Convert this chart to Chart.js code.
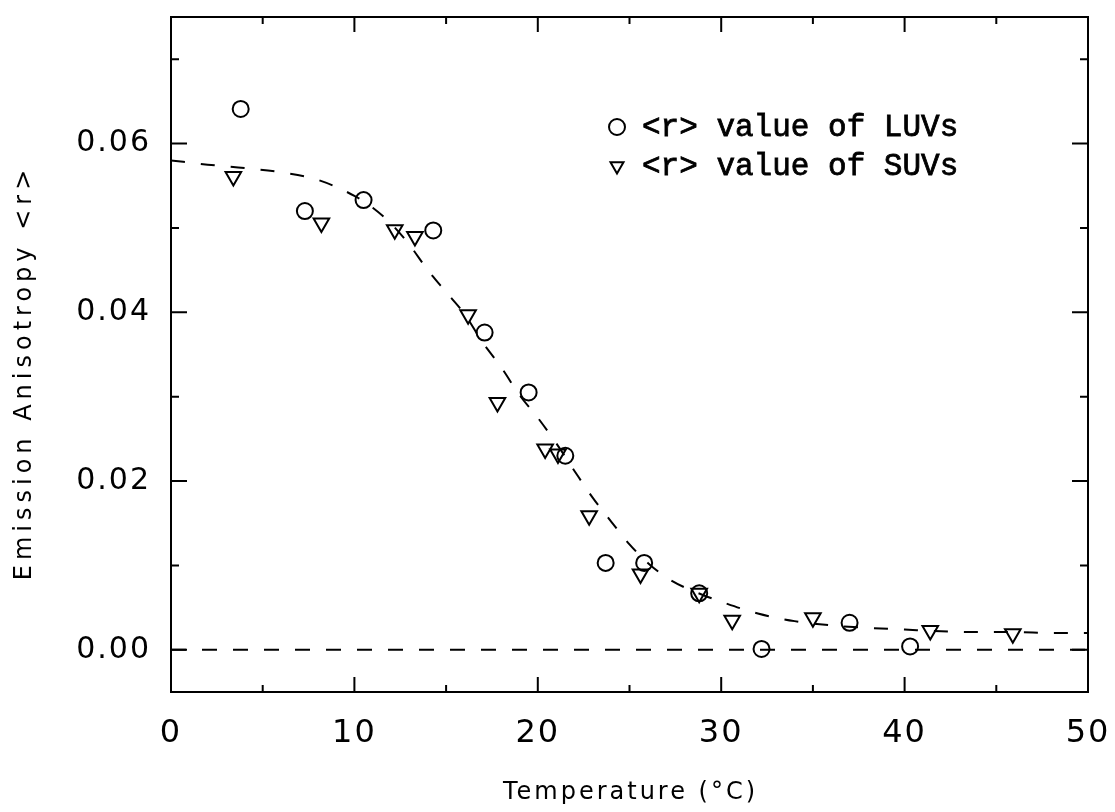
<!DOCTYPE html>
<html>
<head>
<meta charset="utf-8">
<title>Emission anisotropy vs temperature</title>
<script src="https://cdn.jsdelivr.net/npm/chart.js@4.4.1/dist/chart.umd.min.js"></script>
<style>
  html, body { margin: 0; padding: 0; background: #fff; }
  canvas { display: block; }
</style>
</head>
<body>
<canvas id="aniso" width="1115" height="812"></canvas>
<script>
// large unilamellar vesicles
const luvTemp = [3.8, 7.3, 10.5, 14.3, 17.1, 19.5, 21.5, 23.7, 25.8, 28.8, 32.2, 37.0, 40.3];
const luvR    = [0.0641, 0.0520, 0.0533, 0.0497, 0.0376, 0.0305, 0.0230, 0.0103, 0.0103, 0.0067, 0.0001, 0.0032, 0.0004];

// small unilamellar vesicles
const suvTemp = [3.4, 8.2, 12.2, 13.3, 16.2, 17.8, 20.4, 21.1, 22.8, 25.6, 28.8, 30.6, 35.0, 41.4, 45.9];
const suvR    = [0.0561, 0.0506, 0.0498, 0.0490, 0.0397, 0.0293, 0.0238, 0.0232, 0.0159, 0.0090, 0.0067, 0.0035, 0.0038, 0.0023, 0.0019];

// fitted phase transition curve
const fitTemp = [0, 2, 4, 6, 8, 10, 11, 12, 13, 14, 15, 16, 17, 18, 19, 20, 21, 22, 23, 24, 25,
                 26, 27, 28, 29, 30, 32, 34, 36, 38, 40, 42, 44, 46, 48, 50];
const fitR    = [0.0580, 0.0575, 0.0571, 0.0566, 0.0557, 0.0538, 0.0524, 0.0505, 0.0480, 0.0450,
                 0.0424, 0.0398, 0.0364, 0.0335, 0.0302, 0.0275, 0.0245, 0.0212, 0.0180, 0.0152,
                 0.0125, 0.0103, 0.0086, 0.0074, 0.0065, 0.0057, 0.0043, 0.0034, 0.0029, 0.0026,
                 0.0024, 0.0022, 0.0021, 0.0021, 0.0020, 0.0020];

// zero reference line
const baseTemp = [0, 50];
const baseR    = [0, 0];

const xTicks = [0, 10, 20, 30, 40, 50];
const yTicks = [0, 0.02, 0.04, 0.06];

const xTitle = 'Temperature (\u00B0C)';
const yTitle = 'Emission Anisotropy <r>';

const pts = (xs, ys) => xs.map((v, i) => ({ x: v, y: ys[i] }));

// box frame with inward ticks, axis titles and the inset key
const frame = {
  id: 'frame',
  beforeDraw(chart) {
    chart.ctx.letterSpacing = '2px';
  },
  afterDraw(chart) {
    const { ctx, chartArea: a, scales: { x, y } } = chart;
    ctx.save();
    ctx.letterSpacing = '0px';
    ctx.strokeStyle = '#000';
    ctx.lineWidth = 2;
    ctx.strokeRect(a.left, a.top, a.right - a.left, a.bottom - a.top);

    ctx.beginPath();
    for (let v = x.min; v <= x.max; v += 5) {
      const px = x.getPixelForValue(v);
      const len = v % 10 === 0 ? 15 : 7;
      ctx.moveTo(px, a.bottom); ctx.lineTo(px, a.bottom - len);
      ctx.moveTo(px, a.top);    ctx.lineTo(px, a.top + len);
    }
    for (let i = 0; i <= 7; i++) {
      const py = y.getPixelForValue(i / 100);
      const len = i % 2 === 0 ? 16 : 8;
      ctx.moveTo(a.left, py);  ctx.lineTo(a.left + len, py);
      ctx.moveTo(a.right, py); ctx.lineTo(a.right - len, py);
    }
    ctx.stroke();

    // axis titles
    ctx.fillStyle = '#000';
    ctx.font = '24px "DejaVu Sans"';
    ctx.textAlign = 'center';
    ctx.textBaseline = 'middle';
    ctx.letterSpacing = '3px';
    ctx.fillText(xTitle, (a.left + a.right) / 2 + 1, 793);
    ctx.save();
    ctx.translate(25, (a.top + a.bottom) / 2 + 20);
    ctx.rotate(-Math.PI / 2);
    ctx.letterSpacing = '5px';
    ctx.fillText(yTitle, 2, 0);
    ctx.restore();

    // key
    ctx.letterSpacing = '0px';
    ctx.font = '31px "Liberation Mono"';
    ctx.textAlign = 'left';
    const kx = a.left + 446, ky = a.top + 110, gap = 39;
    [0, 1].forEach((k) => {
      const ds = chart.data.datasets[k];
      ctx.fillStyle = 'rgba(0,0,0,0)';
      ctx.strokeStyle = '#000';
      ctx.lineWidth = 2;
      Chart.helpers.drawPoint(ctx, {
        pointStyle: ds.pointStyle,
        rotation: ds.rotation || 0,
        radius: k === 0 ? 8 : 7.5,
        borderWidth: 2
      }, kx, ky + k * gap);
      ctx.fillStyle = '#000';
      ctx.lineWidth = 0.8;
      ctx.fillText(ds.label, kx + 25, ky + k * gap + 1);
      ctx.strokeText(ds.label, kx + 25, ky + k * gap + 1);
    });
    ctx.restore();
  }
};

new Chart(document.getElementById('aniso').getContext('2d'), {
  type: 'scatter',
  data: {
    datasets: [{
      label: '<r> value of LUVs',
      data: pts(luvTemp, luvR),
      pointStyle: 'circle',
      pointRadius: 8,
      borderWidth: 2,
      borderColor: '#000',
      backgroundColor: 'rgba(0,0,0,0)'
    }, {
      label: '<r> value of SUVs',
      data: pts(suvTemp, suvR),
      pointStyle: 'triangle',
      rotation: 180,
      pointRadius: 9,
      borderWidth: 2,
      borderColor: '#000',
      backgroundColor: 'rgba(0,0,0,0)'
    }, {
      label: 'fit',
      data: pts(fitTemp, fitR),
      showLine: true,
      pointRadius: 0,
      borderColor: '#000',
      borderWidth: 2,
      borderDash: [14, 16],
      cubicInterpolationMode: 'monotone'
    }, {
      label: 'zero',
      data: pts(baseTemp, baseR),
      showLine: true,
      pointRadius: 0,
      borderColor: '#000',
      borderWidth: 2,
      borderDash: [15, 16]
    }]
  },
  options: {
    responsive: false,
    animation: false,
    layout: { padding: { top: 17, right: 27, left: 0, bottom: 0 } },
    plugins: {
      legend: { display: false },
      tooltip: { enabled: false }
    },
    scales: {
      x: {
        min: 0, max: 50,
        grid: { display: false, drawTicks: false },
        border: { display: false },
        afterBuildTicks: s => { s.ticks = xTicks.map(v => ({ value: v })); },
        afterFit: s => { s.height = 120; s.paddingLeft = 0; s.paddingRight = 0; },
        ticks: {
          padding: 22,
          color: '#000',
          maxRotation: 0,
          font: { family: 'DejaVu Sans', size: 32 }
        }
      },
      y: {
        min: -0.005, max: 0.075,
        grid: { display: false, drawTicks: false },
        border: { display: false },
        afterBuildTicks: s => { s.ticks = yTicks.map(v => ({ value: v })); },
        afterFit: s => { s.width = 171; s.paddingTop = 0; s.paddingBottom = 0; },
        ticks: {
          padding: 20,
          color: '#000',
          font: { family: 'DejaVu Sans', size: 30 },
          callback: v => v.toFixed(2)
        }
      }
    }
  },
  plugins: [frame]
});
</script>
</body>
</html>
